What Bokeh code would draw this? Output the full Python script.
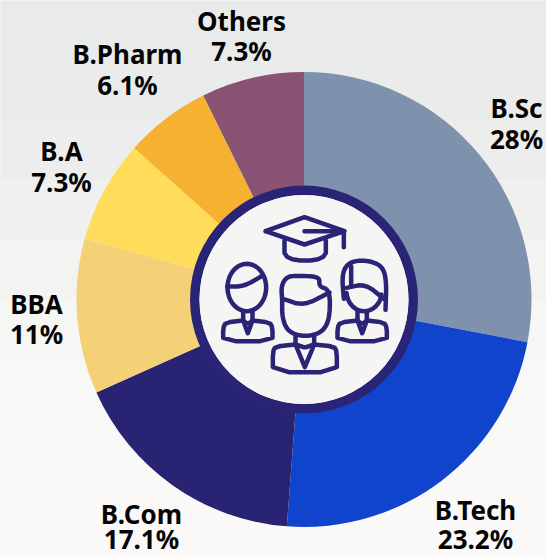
import numpy as np
from bokeh.embed import file_html
from bokeh.resources import INLINE
from bokeh.plotting import figure
from bokeh.models import ColumnDataSource, Range1d
from bokeh.core.properties import value

categories = ["B.Sc", "B.Tech", "B.Com", "BBA", "B.A", "B.Pharm", "Others"]
shares = [28.0, 23.2, 17.1, 11.0, 7.3, 6.1, 7.3]
share_labels = ["28%", "23.2%", "17.1%", "11%", "7.3%", "6.1%", "7.3%"]
colors = ["#7f92ad", "#1144cc", "#282373", "#f4d077", "#ffdc59", "#f6b131", "#8a5273"]

W, H = 546, 557
CX, CY = 303.5, 299.0   # centre of ring in picture pixels
R_OUT, R_IN, R_RING_IN = 227.5, 114.0, 104.5
INK = "#2a2476"
FONT = "Noto Sans"

# label centres in picture pixels: (x, y of name, y of share)
label_x = [516, 475, 141, 36, 61, 127, 241]
label_y1 = [107.5, 509, 513, 303.5, 150.5, 53.5, 20.5]
label_y2 = [138.5, 538.5, 538.5, 333.5, 181.5, 84.5, 50.5]

# soft backdrop: y band edges and grey shades
band_edges = [0, 60, 120, 180, 240, 300, 360, 420, 480, 557]
band_colors = ["#e9ebea", "#eaeceb", "#ededed", "#f0f0ef", "#f3f3f2", "#f6f6f5", "#f8f8f7", "#f9f9f8", "#faf9f8"]


def px(x):
    return x - CX


def py(y):
    return CY - y


p = figure(width=W, height=H, output_backend="svg", toolbar_location=None,
           x_range=Range1d(px(0), px(W)), y_range=Range1d(py(H), py(0)),
           min_border=0, outline_line_color=None, background_fill_color="#f6f6f5",
           border_fill_color="#f6f6f5")
p.axis.visible = False
p.grid.visible = False

p.quad(left=px(0), right=px(W), top=[py(v) for v in band_edges[:-1]],
       bottom=[py(v) for v in band_edges[1:]], fill_color=band_colors, line_color=band_colors)

frac = np.array(shares) / sum(shares)
cum = np.concatenate([[0], np.cumsum(frac)])
start = np.pi / 2 - 2 * np.pi * cum[1:]
end = np.pi / 2 - 2 * np.pi * cum[:-1]
src = ColumnDataSource(dict(start=start, end=end, color=colors))
p.annular_wedge(x=0, y=0, inner_radius=R_IN - 2, outer_radius=R_OUT, start_angle="start", end_angle="end",
                fill_color="color", line_color=None, source=src)
p.annular_wedge(x=0, y=0, inner_radius=R_RING_IN, outer_radius=R_IN, start_angle=0, end_angle=2 * np.pi,
                fill_color=INK, line_color=None)
p.circle(x=0, y=0, radius=R_RING_IN, fill_color="#f5f6f4", line_color=None)


def smooth(pts, n=3):
    a = np.array(pts, float)
    for _ in range(n):
        b = a[1:]
        c = a[:-1]
        mid = np.stack([0.75 * c + 0.25 * b, 0.25 * c + 0.75 * b], 1).reshape(-1, 2)
        a = np.vstack([a[0], mid, a[-1]])
    return a


def arc(cx, cy, a, b, deg0, deg1):
    t = np.radians(np.linspace(deg0, deg1, 40))
    return np.column_stack([cx + a * np.cos(t), cy + b * np.sin(t)])


def person(cx, body_w, body_top, body_bottom, neck, tie_bottom, neck_top):
    """Icon strokes for a bust, in zoom-image coordinates."""
    hw = body_w / 2
    return [
        smooth([(cx - neck, body_top), (cx - hw + 8, body_top + 6), (cx - hw, body_top + 22), (cx - hw, body_bottom),
                (cx + hw, body_bottom), (cx + hw, body_top + 22), (cx + hw - 8, body_top + 6), (cx + neck, body_top)], n=1),
        np.array([(cx - neck, neck_top), (cx - neck, body_top), (cx, tie_bottom),
                  (cx + neck, body_top), (cx + neck, neck_top)], float),
        np.array([(cx - neck, body_top), (cx - 4, body_top + 8), (cx + 4, body_top + 8),
                  (cx + neck, body_top)], float),
    ]


strokes = []
# mortarboard
strokes.append(np.array([(255, 122), (372, 80), (492, 122), (372, 162), (255, 122)], float))
strokes.append(np.array([(372, 122), (490, 122), (490, 170)], float))
strokes.append(smooth([(312, 150), (312, 210), (436, 210), (436, 150)], n=2))
# left person
strokes += person(202, 148, 390, 452, 14, 428, 362)
strokes.append(arc(199, 291, 58, 71, 0, 360))
strokes.append(smooth([(140, 288), (190, 288), (245, 256)], n=2))
# centre person
strokes += person(373, 192, 462, 545, 28, 530, 432)
strokes.append(smooth([(305, 330), (302, 285), (320, 258), (350, 256), (418, 258), (415, 288), (448, 298),
                       (448, 380), (430, 420), (395, 436), (355, 436), (320, 420), (305, 380), (305, 330)], n=3))
strokes.append(smooth([(310, 326), (370, 346), (447, 306)], n=2))
# right person
strokes += person(545, 148, 390, 452, 14, 428, 362)
strokes.append(smooth([(490, 325), (484, 250), (505, 215), (555, 208), (605, 225), (618, 270), (615, 358)], n=3))
strokes.append(smooth([(498, 292), (555, 280), (610, 325)], n=2))
strokes.append(arc(551, 302, 53, 60, 10, 175))
strokes.append(np.array([(512, 228), (512, 288)], float))

xs = [list(px(180 + s[:, 0] / 3)) for s in strokes]
ys = [list(py(190 + s[:, 1] / 3)) for s in strokes]
p.multi_line(xs, ys, line_color=INK, line_width=4.5, line_cap="round", line_join="round")

tx = [px(v) for v in label_x]
for yy, txt in ((label_y1, categories), (label_y2, share_labels)):
    p.text(x=tx, y=[py(v) for v in yy], text=txt, text_font=value(FONT), text_font_style="bold",
           text_font_size="26px", text_color="#050505", text_align="center", text_baseline="middle")

open("out.html", "w").write(file_html(p, INLINE))
